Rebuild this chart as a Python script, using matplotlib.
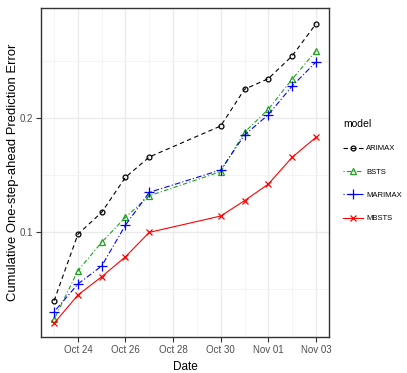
import matplotlib
matplotlib.use("Agg")
import matplotlib.pyplot as plt
import matplotlib.dates as mdates
import numpy as np
import datetime as dt

plt.rcParams['font.family'] = ['Liberation Sans', 'DejaVu Sans']

dates = ["2017-10-23", "2017-10-24", "2017-10-25", "2017-10-26", "2017-10-27",
         "2017-10-30", "2017-10-31", "2017-11-01", "2017-11-02", "2017-11-03"]
arimax = [0.0397, 0.0980, 0.1173, 0.1480, 0.1658, 0.1930, 0.2252, 0.2345, 0.2544, 0.2825]
bsts = [0.0234, 0.0660, 0.0910, 0.1129, 0.1318, 0.1529, 0.1875, 0.2076, 0.2340, 0.2588]
marimax = [0.0300, 0.0544, 0.0702, 0.1061, 0.1348, 0.1544, 0.1850, 0.2029, 0.2280, 0.2491]
mbsts = [0.0200, 0.0447, 0.0608, 0.0783, 0.0997, 0.1140, 0.1275, 0.1420, 0.1655, 0.1830]
models = ["ARIMAX", "BSTS", "MARIMAX", "MBSTS"]
xtick_dates = ["2017-10-24", "2017-10-26", "2017-10-28", "2017-10-30", "2017-11-01", "2017-11-03"]
xtick_labels = ["Oct 24", "Oct 26", "Oct 28", "Oct 30", "Nov 01", "Nov 03"]
yticks = [0.1, 0.2]

x = [dt.datetime.strptime(d, "%Y-%m-%d") for d in dates]
xn = mdates.date2num(x)

W, H = 407, 373
fig = plt.figure(figsize=(W / 100, H / 100), dpi=100)
fig.patch.set_facecolor("white")
L, T, R, B = 41, 8, 329, 337
ax = fig.add_axes([L / W, 1 - B / H, (R - L) / W, (B - T) / H])

styles = [
    dict(color="black", linestyle=(0, (4, 3)), marker="o", mfc="none", ms=3.5),
    dict(color="#1FA01F", linestyle=(0, (1, 2, 4, 2)), marker="^", mfc="none", ms=5),
    dict(color="#0000FF", linestyle=(0, (1, 2, 5, 2)), marker="+", ms=7),
    dict(color="#FF0000", linestyle="-", marker="x", ms=5),
]
series = [arimax, bsts, marimax, mbsts]
handles = []
for name, ys, st in zip(models, series, styles):
    h, = ax.plot(xn, ys, lw=0.8, mew=0.9, label=name, **st)
    handles.append(h)

span = xn[-1] - xn[0]
ax.set_xlim(xn[0] - 0.05 * span, xn[-1] + 0.05 * span)
ax.set_ylim(0.0079, 0.2965)

xt = mdates.date2num([dt.datetime.strptime(d, "%Y-%m-%d") for d in xtick_dates])
ax.set_xticks(xt)
ax.set_xticklabels(xtick_labels)
ax.set_xticks([t - 1 for t in xt], minor=True)
ax.set_yticks(yticks)
ax.set_yticklabels([str(v) for v in yticks])
ax.set_yticks([0.05, 0.15, 0.25], minor=True)

ax.grid(True, which="major", color="#EBEBEB", lw=1.0)
ax.grid(True, which="minor", color="#F2F2F2", lw=0.6)
ax.set_axisbelow(True)
for s in ax.spines.values():
    s.set_color("#333333")
    s.set_linewidth(1.0)
ax.tick_params(which="major", length=3.5, color="#333333", labelsize=7, labelcolor="#4D4D4D", pad=2)
ax.tick_params(which="minor", length=0)

ax.set_xlabel("Date", fontsize=8.5)
ax.xaxis.set_label_coords((185 - L) / (R - L), -(367 - B) / (B - T), transform=ax.transAxes)
ax.xaxis.label.set_va("center")
ax.set_ylabel("Cumulative One-step-ahead Prediction Error", fontsize=9.4)
ax.yaxis.set_label_coords(-(L - 13) / (R - L), (B - 172) / (B - T), transform=ax.transAxes)
ax.yaxis.label.set_va("center")

leg = fig.legend(handles=handles, labels=models, title="model",
                 loc="upper left", bbox_to_anchor=(336 / W, 1 - 112 / H),
                 frameon=False, fontsize=5.5, title_fontsize=7.5,
                 handlelength=2.6, labelspacing=2.1, handletextpad=0.45,
                 alignment="left")

fig.savefig("out.png", dpi=100, facecolor="white")
